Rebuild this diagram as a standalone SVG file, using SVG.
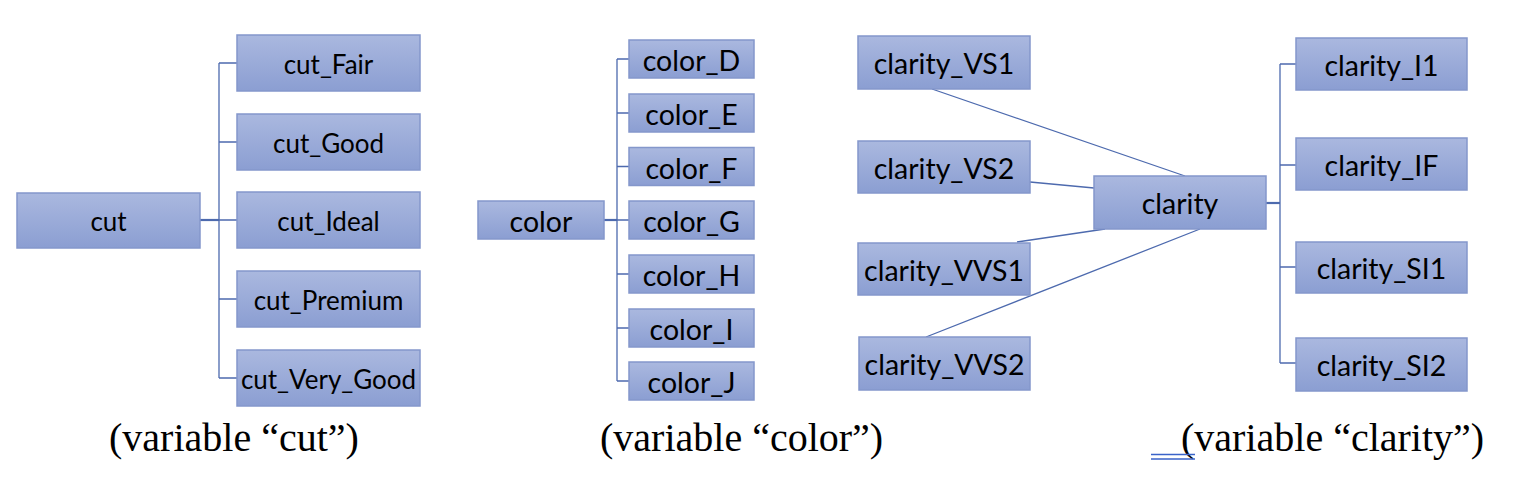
<svg xmlns="http://www.w3.org/2000/svg" width="1522" height="492" viewBox="0 0 1522 492">
<defs>
<linearGradient id="g" x1="0" y1="0" x2="0" y2="1">
<stop offset="0" stop-color="#aab8df"/>
<stop offset="1" stop-color="#8b9ed2"/>
</linearGradient>
<style>
.b{fill:url(#g);stroke:#8497cb;stroke-width:1.5}
.t{font-family:Lato,"Liberation Sans",sans-serif;font-size:26px;fill:#000;text-anchor:middle;dominant-baseline:central}
.l{font-size:28.5px}
.c{stroke:#4d6aae;stroke-width:1.3;fill:none}
.c2{stroke:#4d6aae;stroke-width:2.2;fill:none}
.cap{font-family:"Liberation Serif","Times New Roman",serif;font-size:40px;fill:#000}
</style>
</defs>
<rect width="1522" height="492" fill="#fff"/>
<g id="connectors">
<path class="c2" d="M200 220H219"/>
<path class="c" d="M219 63V378M219 63H237M219 142H237M219 220H237M219 299H237M219 378H237"/>
<path class="c2" d="M604 220H617"/>
<path class="c" d="M617 59V381M617 59H629M617 113H629M617 166.5H629M617 220H629M617 274H629M617 328H629M617 381H629"/>
<path class="c" d="M932 89L1185 176M1030 182L1094 188M1017 242L1105 229M926 337L1200 229"/>
<path class="c2" d="M1266 203H1280"/>
<path class="c" d="M1280 64V363M1280 64H1296M1280 165H1296M1280 267H1296M1280 363H1296"/>
</g>
<g id="cut"><rect class="b" x="17" y="193" width="183" height="55"/><text class="t" x="108.5" y="221">cut</text></g>
<g id="cut_Fair"><rect class="b" x="237" y="35" width="183" height="56"/><text class="t" x="328.5" y="64">cut_Fair</text></g>
<g id="cut_Good"><rect class="b" x="237" y="114" width="183" height="56"/><text class="t" x="328.5" y="143">cut_Good</text></g>
<g id="cut_Ideal"><rect class="b" x="237" y="192" width="183" height="56"/><text class="t" x="328.5" y="221">cut_Ideal</text></g>
<g id="cut_Premium"><rect class="b" x="237" y="271" width="183" height="56"/><text class="t" x="328.5" y="300">cut_Premium</text></g>
<g id="cut_Very_Good"><rect class="b" x="237" y="350" width="183" height="56"/><text class="t" x="328.5" y="379">cut_Very_Good</text></g>
<g id="color"><rect class="b" x="478" y="201" width="126" height="38"/><text class="t l" x="541" y="221">color</text></g>
<g id="color_D"><rect class="b" x="629" y="40" width="125" height="38"/><text class="t l" x="691.5" y="60">color_D</text></g>
<g id="color_E"><rect class="b" x="629" y="94" width="125" height="38"/><text class="t l" x="691.5" y="114">color_E</text></g>
<g id="color_F"><rect class="b" x="629" y="147.5" width="125" height="38"/><text class="t l" x="691.5" y="167.5">color_F</text></g>
<g id="color_G"><rect class="b" x="629" y="201" width="125" height="38"/><text class="t l" x="691.5" y="221">color_G</text></g>
<g id="color_H"><rect class="b" x="629" y="255" width="125" height="38"/><text class="t l" x="691.5" y="275">color_H</text></g>
<g id="color_I"><rect class="b" x="629" y="309" width="125" height="38"/><text class="t l" x="691.5" y="329">color_I</text></g>
<g id="color_J"><rect class="b" x="629" y="362" width="125" height="38"/><text class="t l" x="691.5" y="382">color_J</text></g>
<g id="clarity_VS1"><rect class="b" x="858" y="36" width="172" height="53"/><text class="t l" x="944" y="63">clarity_VS1</text></g>
<g id="clarity_VS2"><rect class="b" x="858" y="141" width="172" height="52"/><text class="t l" x="944" y="167.5">clarity_VS2</text></g>
<g id="clarity_VVS1"><rect class="b" x="858" y="243" width="172" height="52"/><text class="t l" x="944" y="269.5">clarity_VVS1</text></g>
<g id="clarity_VVS2"><rect class="b" x="859" y="337" width="171" height="53"/><text class="t l" x="944.5" y="364">clarity_VVS2</text></g>
<g id="clarity"><rect class="b" x="1094" y="176" width="172" height="53"/><text class="t l" x="1180" y="203">clarity</text></g>
<g id="clarity_I1"><rect class="b" x="1296" y="38" width="171" height="52"/><text class="t l" x="1381.5" y="64.5">clarity_I1</text></g>
<g id="clarity_IF"><rect class="b" x="1296" y="138" width="171" height="52"/><text class="t l" x="1381.5" y="164.5">clarity_IF</text></g>
<g id="clarity_SI1"><rect class="b" x="1296" y="242" width="171" height="51"/><text class="t l" x="1381.5" y="268">clarity_SI1</text></g>
<g id="clarity_SI2"><rect class="b" x="1296" y="338" width="171" height="53"/><text class="t l" x="1381.5" y="365">clarity_SI2</text></g>
<g id="captions">
<text class="cap" x="109" y="451">(variable “cut”)</text>
<text class="cap" x="600" y="451">(variable “color”)</text>
<text class="cap" x="1181" y="451">(variable “clarity”)</text>
<path d="M1151 454.5H1195M1151 459H1195" stroke="#3a63c9" stroke-width="1.3" fill="none"/>
</g>
</svg>
